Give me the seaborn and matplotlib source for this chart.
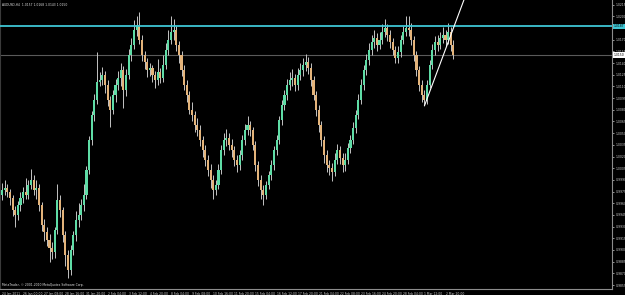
import matplotlib
matplotlib.use("Agg")
import matplotlib.pyplot as plt
import seaborn as sns
import pandas as pd
import numpy as np

# ---- data (AUDUSD H4) ----
opens = [0.9971,0.9977,0.9980,0.9974,0.9967,0.9951,0.9945,0.9958,0.9967,0.9974,
         0.9971,0.9983,0.9990,0.9977,0.9980,0.9958,0.9932,0.9923,0.9913,0.9903,
         0.9897,0.9926,0.9964,0.9951,0.9919,0.9894,0.9874,0.9900,0.9919,0.9939,
         0.9945,0.9958,0.9971,1.0003,1.0041,1.0073,1.0093,1.0116,1.0118,1.0125,
         1.0112,1.0093,1.0080,1.0099,1.0112,1.0121,1.0131,1.0105,1.0125,1.0150,
         1.0163,1.0182,1.0189,1.0170,1.0150,1.0141,1.0131,1.0134,1.0125,1.0118,
         1.0129,1.0121,1.0138,1.0157,1.0170,1.0180,1.0182,1.0163,1.0150,1.0131,
         1.0112,1.0099,1.0080,1.0073,1.0060,1.0054,1.0041,1.0028,1.0016,1.0003,
         0.9990,0.9977,0.9983,1.0003,1.0028,1.0041,1.0044,1.0035,1.0028,1.0016,
         1.0009,1.0022,1.0041,1.0054,1.0060,1.0054,1.0035,1.0009,0.9990,0.9977,
         0.9971,0.9983,0.9996,1.0009,1.0028,1.0041,1.0067,1.0086,1.0099,1.0112,
         1.0118,1.0121,1.0112,1.0125,1.0131,1.0138,1.0141,1.0134,1.0118,1.0099,
         1.0080,1.0060,1.0041,1.0022,1.0009,1.0005,1.0000,1.0016,1.0028,1.0018,
         1.0009,1.0016,1.0031,1.0041,1.0057,1.0073,1.0093,1.0112,1.0131,1.0144,
         1.0157,1.0167,1.0172,1.0163,1.0170,1.0180,1.0185,1.0176,1.0167,1.0157,
         1.0147,1.0154,1.0170,1.0180,1.0185,1.0182,1.0170,1.0150,1.0131,1.0112,
         1.0099,1.0093,1.0112,1.0138,1.0157,1.0167,1.0163,1.0172,1.0176,1.0170,
         1.0180,1.0163]
closes = [0.9977,0.9980,0.9974,0.9967,0.9951,0.9945,0.9958,0.9967,0.9974,0.9971,
          0.9983,0.9990,0.9977,0.9980,0.9958,0.9932,0.9923,0.9913,0.9903,0.9897,
          0.9926,0.9964,0.9951,0.9919,0.9894,0.9874,0.9900,0.9919,0.9939,0.9945,
          0.9958,0.9971,1.0003,1.0041,1.0073,1.0093,1.0116,1.0118,1.0125,1.0112,
          1.0093,1.0080,1.0099,1.0112,1.0121,1.0131,1.0105,1.0125,1.0150,1.0163,
          1.0182,1.0189,1.0170,1.0150,1.0141,1.0131,1.0134,1.0125,1.0118,1.0129,
          1.0121,1.0138,1.0157,1.0170,1.0180,1.0182,1.0163,1.0150,1.0131,1.0112,
          1.0099,1.0080,1.0073,1.0060,1.0054,1.0041,1.0028,1.0016,1.0003,0.9990,
          0.9977,0.9983,1.0003,1.0028,1.0041,1.0044,1.0035,1.0028,1.0016,1.0009,
          1.0022,1.0041,1.0054,1.0060,1.0054,1.0035,1.0009,0.9990,0.9977,0.9971,
          0.9983,0.9996,1.0009,1.0028,1.0041,1.0067,1.0086,1.0099,1.0112,1.0118,
          1.0121,1.0112,1.0125,1.0131,1.0138,1.0141,1.0134,1.0118,1.0099,1.0080,
          1.0060,1.0041,1.0022,1.0009,1.0005,1.0000,1.0016,1.0028,1.0018,1.0009,
          1.0016,1.0031,1.0041,1.0057,1.0073,1.0093,1.0112,1.0131,1.0144,1.0157,
          1.0167,1.0172,1.0163,1.0170,1.0180,1.0185,1.0176,1.0167,1.0157,1.0147,
          1.0154,1.0170,1.0180,1.0185,1.0182,1.0170,1.0150,1.0131,1.0112,1.0099,
          1.0093,1.0112,1.0138,1.0157,1.0167,1.0163,1.0172,1.0176,1.0170,1.0180,
          1.0163,1.0150]
highs = [0.9986,0.9990,0.9985,0.9978,0.9970,0.9956,0.9963,0.9975,0.9981,0.9993,
         0.9990,1.0004,0.9996,0.9990,0.9985,0.9962,0.9940,0.9930,0.9920,0.9910,
         0.9930,0.9985,0.9970,0.9955,0.9925,0.9900,0.9906,0.9925,0.9950,0.9960,
         0.9966,0.9985,1.0008,1.0046,1.0078,1.0100,1.0154,1.0128,1.0135,1.0130,
         1.0118,1.0098,1.0105,1.0120,1.0130,1.0140,1.0136,1.0133,1.0158,1.0172,
         1.0195,1.0200,1.0205,1.0176,1.0156,1.0146,1.0140,1.0138,1.0130,1.0145,
         1.0134,1.0150,1.0166,1.0182,1.0200,1.0196,1.0187,1.0168,1.0155,1.0138,
         1.0118,1.0104,1.0090,1.0078,1.0070,1.0060,1.0046,1.0035,1.0022,1.0010,
         0.9996,0.9990,1.0010,1.0035,1.0050,1.0055,1.0050,1.0042,1.0034,1.0022,
         1.0028,1.0048,1.0062,1.0072,1.0066,1.0058,1.0040,1.0014,0.9996,0.9984,
         0.9988,1.0002,1.0015,1.0034,1.0048,1.0072,1.0092,1.0106,1.0120,1.0128,
         1.0132,1.0126,1.0134,1.0140,1.0146,1.0152,1.0148,1.0140,1.0124,1.0104,
         1.0086,1.0066,1.0046,1.0028,1.0016,1.0012,1.0024,1.0036,1.0034,1.0024,
         1.0024,1.0038,1.0048,1.0064,1.0080,1.0100,1.0120,1.0138,1.0152,1.0166,
         1.0176,1.0182,1.0178,1.0180,1.0190,1.0196,1.0190,1.0182,1.0172,1.0162,
         1.0162,1.0176,1.0188,1.0200,1.0200,1.0192,1.0175,1.0156,1.0136,1.0118,
         1.0105,1.0118,1.0144,1.0164,1.0175,1.0176,1.0180,1.0186,1.0182,1.0192,
         1.0186,1.0170]
lows = [0.9964,0.9970,0.9968,0.9958,0.9944,0.9930,0.9938,0.9950,0.9960,0.9965,
        0.9966,0.9978,0.9970,0.9966,0.9950,0.9925,0.9912,0.9905,0.9885,0.9888,
        0.9890,0.9920,0.9942,0.9910,0.9880,0.9864,0.9868,0.9893,0.9912,0.9930,
        0.9938,0.9950,0.9965,0.9998,1.0035,1.0066,1.0088,1.0110,1.0112,1.0102,
        1.0085,1.0058,1.0075,1.0090,1.0105,1.0110,1.0082,1.0098,1.0120,1.0143,
        1.0158,1.0175,1.0165,1.0143,1.0133,1.0122,1.0124,1.0116,1.0108,1.0112,
        1.0114,1.0116,1.0132,1.0150,1.0164,1.0170,1.0155,1.0140,1.0124,1.0105,
        1.0090,1.0074,1.0065,1.0052,1.0046,1.0034,1.0020,1.0008,0.9995,0.9980,
        0.9966,0.9970,0.9978,0.9998,1.0022,1.0034,1.0028,1.0020,1.0008,1.0000,
        1.0003,1.0016,1.0035,1.0048,1.0046,1.0028,1.0002,0.9982,0.9966,0.9958,
        0.9965,0.9978,0.9990,1.0003,1.0022,1.0036,1.0060,1.0080,1.0093,1.0105,
        1.0110,1.0104,1.0106,1.0118,1.0124,1.0130,1.0126,1.0110,1.0092,1.0072,
        1.0052,1.0034,1.0012,1.0000,0.9996,0.9988,0.9995,1.0010,1.0010,1.0000,
        1.0002,1.0010,1.0025,1.0036,1.0050,1.0068,1.0088,1.0106,1.0125,1.0138,
        1.0150,1.0160,1.0156,1.0158,1.0165,1.0174,1.0168,1.0160,1.0150,1.0140,
        1.0140,1.0148,1.0164,1.0175,1.0175,1.0163,1.0143,1.0124,1.0104,1.0090,
        1.0086,1.0088,1.0108,1.0132,1.0150,1.0155,1.0158,1.0166,1.0162,1.0165,
        1.0156,1.0145]
price_ticks = [1.0215,1.0200,1.0185,1.0170,1.0155,1.0140,1.0125,1.0110,1.0095,
               1.0080,1.0065,1.0050,1.0035,1.0020,1.0005,0.9990,0.9975,0.9960,
               0.9945,0.9930,0.9915,0.9900,0.9885,0.9870,0.9855]
date_labels = ["24 Jan 2011","26 Jan 00:00","27 Jan 08:00","28 Jan 16:00","31 Jan 20:00",
               "2 Feb 04:00","3 Feb 12:00","4 Feb 20:00","8 Feb 04:00","9 Feb 08:00",
               "10 Feb 16:00","11 Feb 20:00","15 Feb 04:00","16 Feb 12:00","17 Feb 20:00",
               "21 Feb 04:00","22 Feb 08:00","23 Feb 16:00","24 Feb 20:00","28 Feb 04:00",
               "1 Mar 12:00","2 Mar 20:00"]
bars_per_label = 8
resistance = 1.0187
bid = 1.0150
trend_bars = [160, 171]
trend_prices = [1.0085, 1.0185]
header = "AUDUSD,H4  1.0157 1.0168 1.0143 1.0150"
footer = "MetaTrader, \u00a9 2001-2010 MetaQuotes Software Corp."

# ---- style ----
sns.set_theme(style="dark", rc={"axes.facecolor": "black", "figure.facecolor": "black",
                                "axes.edgecolor": "#8c8c8c", "axes.grid": False})
plt.rcParams['font.family'] = ['DejaVu Sans']

BULL = "#5fdca6"
BEAR = "#e3b37a"
WICK = "#c4c4c4"
FS = 2.2

df = pd.DataFrame({"open": opens, "high": highs, "low": lows, "close": closes})
df["bar"] = np.arange(len(df))
df["bottom"] = df[["open", "close"]].min(axis=1)
df["height"] = (df["close"] - df["open"]).abs().clip(lower=0.00006)
df["color"] = np.where(df["close"] >= df["open"], BULL, BEAR)

fig = plt.figure(figsize=(6.25, 2.95), dpi=100)
ax = fig.add_axes([0.0, 6 / 295, 612 / 625, 289 / 295])
ax.set_facecolor("black")

ax.vlines(df["bar"], df["low"], df["high"], color=WICK, lw=0.7, zorder=2)
ax.bar(df["bar"], df["height"], bottom=df["bottom"], width=0.78,
       color=df["color"], linewidth=0, zorder=3)

ax.set_xlim(-0.76, 231.06)
ax.set_ylim(0.98499, 1.02210)

# horizontal lines
ax.axhline(bid, color="#5a5a5a", lw=0.8, zorder=1)
ax.axhline(resistance, color="#3fc6d4", lw=1.3, zorder=4)

# trendline (ray)
slope = (trend_prices[1] - trend_prices[0]) / (trend_bars[1] - trend_bars[0])
x_end = trend_bars[0] + (1.0225 - trend_prices[0]) / slope
ax.plot([trend_bars[0], x_end], [trend_prices[0], 1.0225], color="white", lw=0.8, zorder=5)

# axes / ticks
ax.spines["top"].set_visible(False)
for s in ["right", "bottom", "left"]:
    ax.spines[s].set_color("#8c8c8c")
    ax.spines[s].set_linewidth(0.8)
ax.spines["left"].set_color("#3a3a3a")

ax.yaxis.tick_right()
ax.set_yticks(price_ticks)
ax.set_yticklabels(["" if abs(p - resistance) < 0.0005 else f"{p:.4f}" for p in price_ticks])
ax.tick_params(axis="y", colors="#d0d0d0", labelsize=FS, length=1.5, width=0.5, pad=1)
ax.set_xticks(np.arange(len(date_labels)) * bars_per_label)
ax.set_xticklabels(date_labels)
ax.tick_params(axis="x", colors="#d0d0d0", labelsize=FS, length=1.5, width=0.5, pad=0.5)
for t in ax.get_xticklabels():
    t.set_ha("left")

# price tags on the axis
ax.text(1.003, resistance, f"{resistance:.4f}", transform=ax.get_yaxis_transform(),
        fontsize=FS, color="black", va="center", ha="left",
        bbox=dict(boxstyle="square,pad=0.3", fc="#3fc6d4", ec="none"), clip_on=False, zorder=6)
ax.text(1.003, bid, f"{bid:.4f}", transform=ax.get_yaxis_transform(),
        fontsize=FS, color="black", va="center", ha="left",
        bbox=dict(boxstyle="square,pad=0.3", fc="white", ec="none"), clip_on=False, zorder=6)

ax.text(0.004, 0.988, header, transform=ax.transAxes, fontsize=FS, color="#e0e0e0",
        ha="left", va="top")
ax.text(0.004, 0.008, footer, transform=ax.transAxes, fontsize=FS, color="#e0e0e0",
        ha="left", va="bottom")

fig.savefig("out.png", dpi=100, facecolor="black")
